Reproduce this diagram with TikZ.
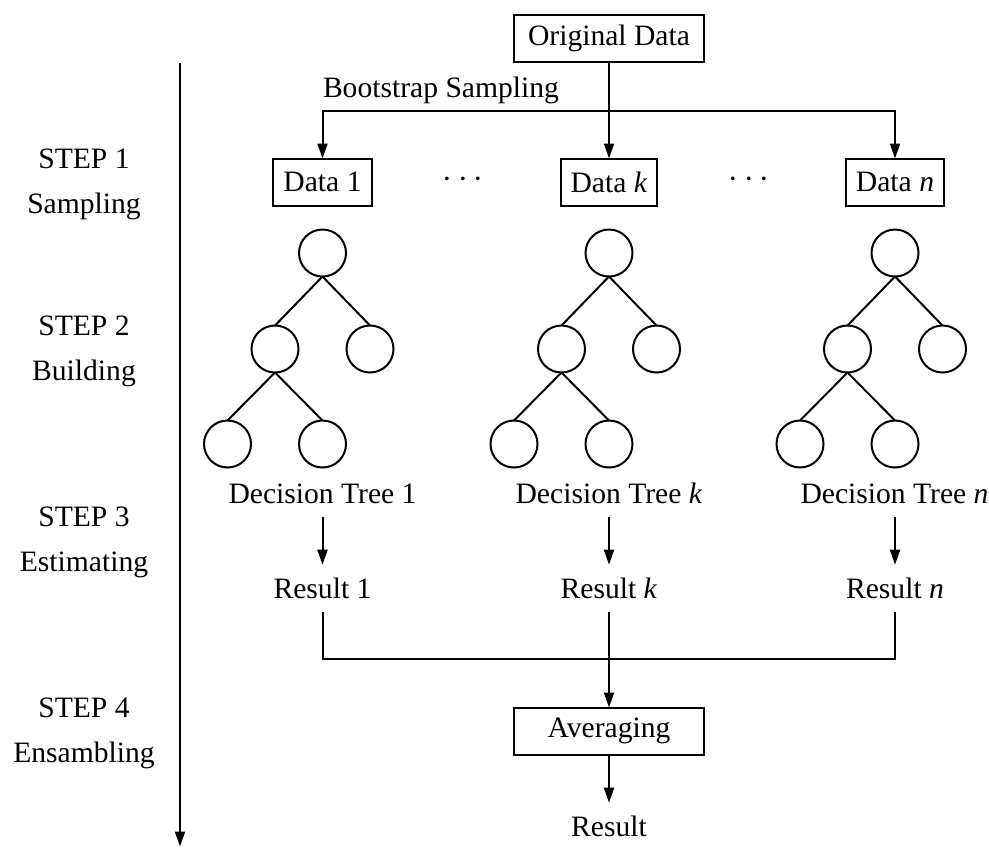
\documentclass[tikz,border=0pt]{standalone}
\usepackage{fontspec}
\setmainfont{Liberation Serif}
\usetikzlibrary{arrows.meta}

\begin{document}
\begin{tikzpicture}[x=0.5pt,y=-0.5pt,
  every node/.style={font=\fontsize{14.8}{17.5}\selectfont},
  box/.style={draw, line width=1pt, inner xsep=5pt, inner ysep=0pt,
    minimum height=23.5pt, outer sep=0pt},
  widebox/.style={box, minimum width=95pt},
  leaf/.style={draw, circle, line width=1pt, minimum size=23.5pt,
    inner sep=0pt, outer sep=0pt},
  lbl/.style={inner xsep=2pt, inner ysep=6.7pt, outer sep=0pt},
  plain/.style={inner sep=0pt, outer sep=0pt},
  ellip/.style={plain, anchor=base, font=\fontsize{16.5}{18}\selectfont},
  conn/.style={line width=1pt},
  arr/.style={conn, -{Triangle[length=7.5pt,width=5pt]}},
]
\useasboundingbox (0,0) rectangle (989,847);

% step axis on the left
\coordinate (axtop) at (180,63);
\coordinate (axbot) at (180,846.5);
\draw[arr] (axtop) -- (axbot);

\node[plain, anchor=base] (s1a) at (84,168) {STEP 1};
\node[plain, anchor=base] (s1b) at (84,213) {Sampling};
\node[plain, anchor=base] (s2a) at (84,335) {STEP 2};
\node[plain, anchor=base] (s2b) at (84,380) {Building};
\node[plain, anchor=base] (s3a) at (84,526) {STEP 3};
\node[plain, anchor=base] (s3b) at (84,571) {Estimating};
\node[plain, anchor=base] (s4a) at (84,717) {STEP 4};
\node[plain, anchor=base] (s4b) at (84,762) {Ensambling};

% sampling
\node[widebox] (orig) at (609,38) {Original Data};
\node[plain, anchor=base west] (boot) at (323,97) {Bootstrap Sampling};
\coordinate (split) at (609,111);

\node[box] (d1) at (322.5,182) {Data 1};
\node[box] (dk) at (609,182) {Data \textit{k}};
\node[box] (dn) at (895,182) {Data \textit{n}};
\node[ellip] (dots1) at (463,187) {$\cdots$};
\node[ellip] (dots2) at (749,187) {$\cdots$};

\draw[arr] (orig) -- (dk);
\draw[arr] (split) -| (d1);
\draw[arr] (split) -| (dn);

% decision trees
\foreach \x/\t in {322.5/1,609/k,895/n}{
  \node[leaf] (root\t) at (\x,253) {};
  \node[leaf] (l\t) at ({\x-47.5},349) {};
  \node[leaf] (r\t) at ({\x+47.5},349) {};
  \node[leaf] (ll\t) at ({\x-95},444) {};
  \node[leaf] (lr\t) at (\x,444) {};
  \draw[conn] (root\t.south) -- (l\t.north);
  \draw[conn] (root\t.south) -- (r\t.north);
  \draw[conn] (l\t.south) -- (ll\t.north);
  \draw[conn] (l\t.south) -- (lr\t.north);
}

% estimating
\node[lbl] (dt1) at (322.5,493.5) {Decision Tree 1};
\node[lbl] (dtk) at (609,493.5) {Decision Tree \textit{k}};
\node[lbl] (dtn) at (894.5,493.5) {Decision Tree \textit{n}};
\node[lbl] (res1) at (322.5,588.5) {Result 1};
\node[lbl] (resk) at (609,588.5) {Result \textit{k}};
\node[lbl] (resn) at (895,588.5) {Result \textit{n}};
\draw[arr] (dt1) -- (res1);
\draw[arr] (dtk) -- (resk);
\draw[arr] (dtn.south -| resn) -- (resn);

% ensembling
\coordinate (join) at (609,659);
\draw[conn] (res1) |- (join) -| (resn);
\node[widebox] (avg) at (609,731) {Averaging};
\node[lbl] (final) at (609,826.5) {Result};
\draw[arr] (resk) -- (avg);
\draw[arr] (avg) -- (final);
\end{tikzpicture}
\end{document}
